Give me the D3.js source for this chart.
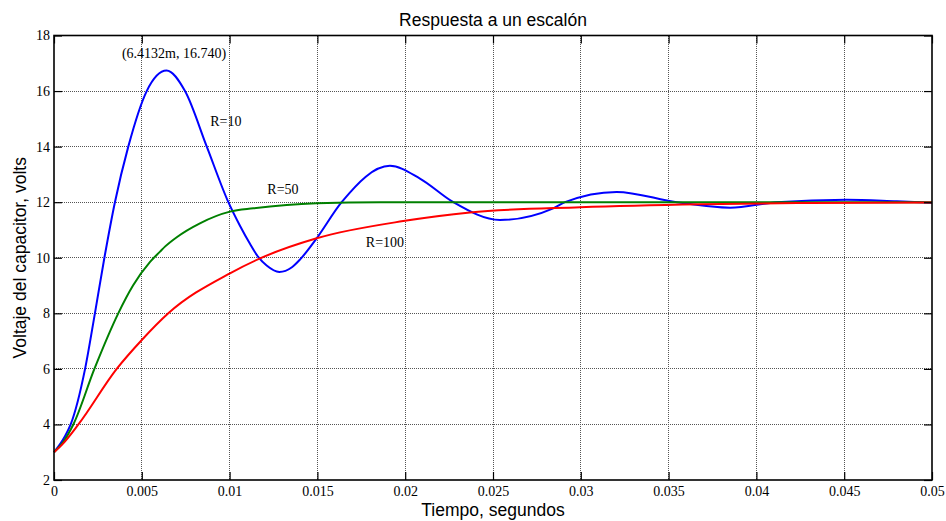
<!DOCTYPE html>
<html>
<head>
<meta charset="utf-8">
<script src="https://cdn.jsdelivr.net/npm/d3@7"></script>
<style>
  html, body { margin: 0; padding: 0; background: #fff; }
  svg { display: block; }
</style>
</head>
<body>
<div id="chart"></div>
<script>
/* Step response of the RLC capacitor voltage for three resistances */

// ── Data ───────────────────────────────────────────────────────
const xTicks = [0, 0.005, 0.01, 0.015, 0.02, 0.025, 0.03, 0.035, 0.04, 0.045, 0.05];
const yTicks = [2, 4, 6, 8, 10, 12, 14, 16, 18];

const tR10 = [0, 0.0006, 0.00095, 0.00177, 0.00233, 0.00287, 0.00347, 0.00423, 0.00528, 0.00641,
              0.00746, 0.0087, 0.00993, 0.01059, 0.01116, 0.01164, 0.01211, 0.01283, 0.01355,
              0.01403, 0.01496, 0.01638, 0.01913, 0.02084, 0.02274, 0.0254, 0.02843, 0.0291,
              0.03204, 0.03546, 0.0385, 0.04115, 0.04514, 0.048, 0.05];
const vR10 = [3.0, 3.55, 4.0, 6.0, 8.0, 10.0, 12.0, 14.0, 16.0, 16.74,
              16.0, 14.0, 12.0, 11.15, 10.5, 10.02, 9.72, 9.49, 9.66,
              9.95, 10.70, 12.0, 13.31, 12.85, 12.0, 11.36, 11.78, 12.0,
              12.37, 12.0, 11.80, 12.0, 12.09, 12.03, 11.98];

const tR50 = [0, 0.0005, 0.0011, 0.0023, 0.00366, 0.0045, 0.00547, 0.00604, 0.00632, 0.00699,
              0.00831, 0.01002, 0.01135, 0.01325, 0.01496, 0.0186, 0.03, 0.05];
const vR50 = [3.0, 3.35, 4.0, 6.0, 8.0, 9.0, 9.85, 10.22, 10.40, 10.74,
              11.24, 11.66, 11.78, 11.90, 11.96, 12.0, 12.0, 12.0];

const tR100 = [0, 0.0005, 0.00139, 0.00357, 0.005, 0.00651, 0.01002, 0.01164, 0.01496, 0.01989,
               0.02369, 0.02995, 0.03679, 0.043, 0.05];
const vR100 = [3.0, 3.3, 4.0, 6.0, 7.04, 8.0, 9.44, 9.95, 10.70, 11.32,
               11.63, 11.82, 11.93, 11.97, 11.99];

const series = [
  { name: 'R=10',  t: tR10,  v: vR10,  color: '#0000ff' },
  { name: 'R=50',  t: tR50,  v: vR50,  color: '#008000' },
  { name: 'R=100', t: tR100, v: vR100, color: '#ff0000' }
];

// ── Layout ─────────────────────────────────────────────────────
const W = 946, H = 521;
const M = { left: 54, right: 14, top: 35.5, bottom: 41 };
const iw = W - M.left - M.right;
const ih = H - M.top - M.bottom;

const SERIF = '"Liberation Serif","Times New Roman",serif';
const SANS  = '"Liberation Sans",Arial,sans-serif';

const svg = d3.select('#chart').append('svg')
  .attr('width', W).attr('height', H);

const x = d3.scaleLinear().domain([0, 0.05]).range([0, iw]);
const y = d3.scaleLinear().domain([2, 18]).range([ih, 0]);

const g = svg.append('g').attr('transform', `translate(${M.left},${M.top})`);

// grid
const grid = g.append('g').attr('class', 'grid');
grid.selectAll('line.vx').data(xTicks.slice(1, -1)).join('line')
  .attr('x1', d => x(d)).attr('x2', d => x(d))
  .attr('y1', 0).attr('y2', ih);
grid.selectAll('line.hy').data(yTicks.slice(1, -1)).join('line')
  .attr('x1', 0).attr('x2', iw)
  .attr('y1', d => y(d)).attr('y2', d => y(d));
grid.selectAll('line')
  .attr('stroke', '#555').attr('stroke-width', 1)
  .attr('stroke-dasharray', '1,1').attr('shape-rendering', 'crispEdges');

// curves
const line = d3.line()
  .x(d => x(d[0])).y(d => y(d[1]))
  .curve(d3.curveMonotoneX);

g.selectAll('path.curve').data(series).join('path')
  .attr('class', 'curve')
  .attr('fill', 'none')
  .attr('stroke', d => d.color)
  .attr('stroke-width', 2)
  .attr('d', d => line(d.t.map((t, i) => [t, d.v[i]])));

// axes (ticks inward on all sides)
const fmtX = d => d === 0 ? '0' : d3.format('')(+d.toFixed(3));
function styleAxis(sel) {
  sel.select('.domain').remove();
  sel.selectAll('.tick line').attr('stroke', '#000').attr('stroke-width', 1.2);
  sel.selectAll('.tick text')
    .attr('font-family', SERIF).attr('font-size', 14).attr('fill', '#000');
}
g.append('g').attr('transform', `translate(0,${ih})`)
  .call(d3.axisBottom(x).tickValues(xTicks).tickFormat(fmtX).tickSize(-8).tickPadding(6))
  .call(styleAxis);
g.append('g')
  .call(d3.axisTop(x).tickValues(xTicks).tickFormat('').tickSize(-8))
  .call(styleAxis);
g.append('g')
  .call(d3.axisLeft(y).tickValues(yTicks).tickFormat(d3.format('d')).tickSize(-8).tickPadding(4))
  .call(styleAxis);
g.append('g').attr('transform', `translate(${iw},0)`)
  .call(d3.axisRight(y).tickValues(yTicks).tickFormat('').tickSize(-8))
  .call(styleAxis);

// frame
g.append('rect')
  .attr('x', 0).attr('y', 0).attr('width', iw).attr('height', ih)
  .attr('fill', 'none').attr('stroke', '#000').attr('stroke-width', 1.6);

// annotations
const notes = [
  { text: '(6.4132m, 16.740)', t: 0.00387, v: 17.19 },
  { text: 'R=10',  t: 0.0089,  v: 14.74 },
  { text: 'R=50',  t: 0.01215, v: 12.3 },
  { text: 'R=100', t: 0.01776, v: 10.4 }
];
g.selectAll('text.note').data(notes).join('text')
  .attr('class', 'note')
  .attr('x', d => x(d.t)).attr('y', d => y(d.v))
  .attr('font-family', SERIF).attr('font-size', 14).attr('fill', '#000')
  .text(d => d.text);

// title and axis labels
svg.append('text')
  .attr('x', M.left + iw / 2).attr('y', 26)
  .attr('text-anchor', 'middle')
  .attr('font-family', SANS).attr('font-size', 17.5)
  .text('Respuesta a un escalón');

svg.append('text')
  .attr('x', M.left + iw / 2).attr('y', 516)
  .attr('text-anchor', 'middle')
  .attr('font-family', SANS).attr('font-size', 17.5)
  .text('Tiempo, segundos');

svg.append('text')
  .attr('transform', `translate(26,${M.top + ih / 2}) rotate(-90)`)
  .attr('text-anchor', 'middle')
  .attr('font-family', SANS).attr('font-size', 17.5)
  .text('Voltaje del capacitor, volts');
</script>
</body>
</html>
